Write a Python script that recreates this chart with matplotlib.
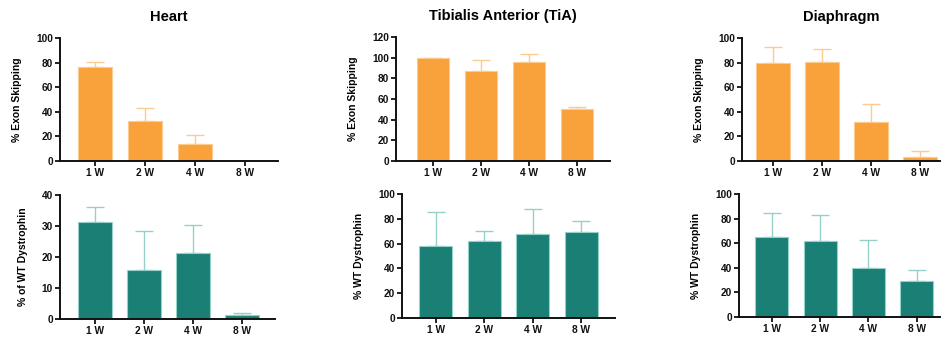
import matplotlib
matplotlib.use("Agg")
import matplotlib.pyplot as plt
import numpy as np

plt.rcParams['font.family'] = ['Liberation Sans', 'DejaVu Sans']
plt.rcParams['font.weight'] = 'bold'

# time points
weeks = ["1 W", "2 W", "4 W", "8 W"]

# exon skipping (%), mean and upper SD
heart_skip = [76.8, 32.7, 13.5, 0.0]
heart_skip_err = [3.7, 10.3, 7.3, 0.0]
tia_skip = [99.9, 86.9, 95.4, 50.3]
tia_skip_err = [0.0, 10.7, 8.0, 1.9]
dia_skip = [80.0, 80.8, 31.9, 3.5]
dia_skip_err = [13.0, 10.0, 14.3, 4.9]

# dystrophin restoration (% of WT)
heart_dys = [31.2, 15.8, 21.4, 1.3]
heart_dys_err = [4.9, 12.7, 9.0, 0.7]
tia_dys = [58.2, 62.2, 67.8, 69.2]
tia_dys_err = [27.1, 8.3, 20.4, 9.4]
dia_dys = [65.2, 62.0, 40.2, 29.6]
dia_dys_err = [19.6, 20.9, 22.3, 9.0]

ORANGE, ORANGE_LT = "#F9A13A", "#FCCB8F"
TEAL, TEAL_LT = "#1A7F75", "#95D0C9"

W, H = 941, 341
fig = plt.figure(figsize=(W / 100, H / 100), dpi=100)


def panel(px, vals, errs, ymax, ystep, xlim, ylabel, col, col_lt, title=None):
    x0, x1, ytop, ybot = px
    ax = fig.add_axes([x0 / W, 1 - ybot / H, (x1 - x0) / W, (ybot - ytop) / H])
    pos = np.arange(len(weeks))
    ax.bar(pos, vals, width=0.68, color=col, edgecolor=col_lt, linewidth=0.8, zorder=2)
    ax.errorbar(pos, vals, yerr=[np.zeros(len(vals)), errs], fmt="none",
                ecolor=col_lt, elinewidth=1.0, capsize=6.5, capthick=1.0, zorder=1)
    ax.set_xlim(*xlim)
    ax.set_ylim(0, ymax)
    ax.set_yticks(np.arange(0, ymax + 1, ystep))
    ax.set_xticks(pos)
    ax.set_xticklabels(weeks)
    for s in ("top", "right"):
        ax.spines[s].set_visible(False)
    for s in ("left", "bottom"):
        ax.spines[s].set_linewidth(1.4)
        ax.spines[s].set_color("#111111")
    ax.tick_params(axis="both", length=3.5, width=1.3, labelsize=7.3,
                   pad=1.5, colors="#111111")
    ax.set_ylabel(ylabel, fontsize=7.5, fontweight="bold", labelpad=10)
    if title:
        ax.set_title(title, fontsize=10.5, fontweight="bold", pad=12)
    return ax


panel((60, 278, 38, 161), heart_skip, heart_skip_err, 100, 20, (-0.7, 3.66),
      "% Exon Skipping", ORANGE, ORANGE_LT, "Heart")
panel((60, 275, 195, 319), heart_dys, heart_dys_err, 40, 10, (-0.71, 3.67),
      "% of WT Dystrophin", TEAL, TEAL_LT)
panel((396, 610, 37, 161), tia_skip, tia_skip_err, 120, 20, (-0.77, 3.69),
      "% Exon Skipping", ORANGE, ORANGE_LT, "Tibialis Anterior (TiA)")
panel((402, 615, 194, 318), tia_dys, tia_dys_err, 100, 20, (-0.7, 3.7),
      "% WT Dystrophin", TEAL, TEAL_LT)
panel((742, 940, 38, 161), dia_skip, dia_skip_err, 100, 20, (-0.63, 3.41),
      "% Exon Skipping", ORANGE, ORANGE_LT, "Diaphragm")
panel((739, 940, 194, 317), dia_dys, dia_dys_err, 100, 20, (-0.68, 3.48),
      "% WT Dystrophin", TEAL, TEAL_LT)

fig.savefig("out.png", dpi=100, facecolor="white")
